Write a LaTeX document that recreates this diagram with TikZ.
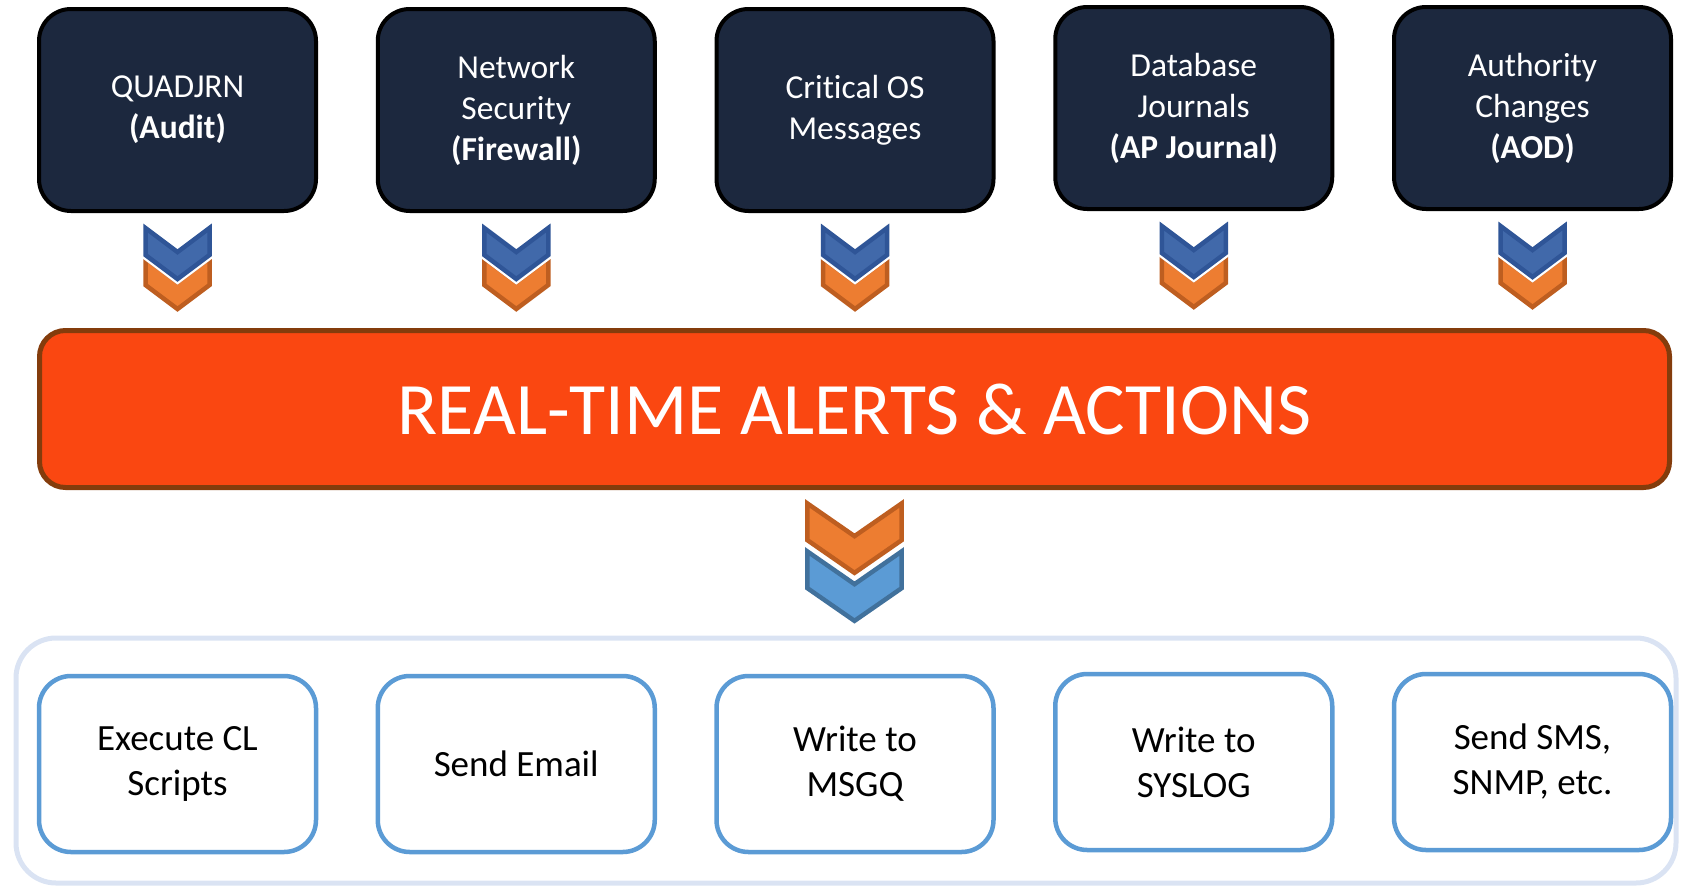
\documentclass[tikz,border=0pt]{standalone}
\usepackage{fontspec}
\setmainfont{Carlito}[Ligatures=NoCommon]
\usetikzlibrary{positioning,calc}

\definecolor{navy}{RGB}{28,40,62}
\definecolor{barfill}{RGB}{250,71,17}
\definecolor{bardraw}{RGB}{132,60,12}
\definecolor{orfill}{RGB}{237,125,49}
\definecolor{ordraw}{RGB}{190,94,32}
\definecolor{bluefill}{RGB}{65,105,170}
\definecolor{bluedraw}{RGB}{47,85,151}
\definecolor{skyfill}{RGB}{91,155,213}
\definecolor{skydraw}{RGB}{65,113,156}
\definecolor{actblue}{RGB}{91,155,213}
\definecolor{frame}{RGB}{218,227,243}

\begin{document}
\begin{tikzpicture}[x=1pt,y=-1pt,node distance=338.75pt,
    src/.style={draw=black,line width=4pt,fill=navy,rounded corners=32pt,
      minimum width=277pt,minimum height=202pt,text=white,align=center,
      font=\fontsize{33.5}{41}\selectfont},
    act/.style={draw=actblue,line width=4.5pt,fill=white,rounded corners=32pt,
      minimum width=277pt,minimum height=176pt,align=center,
      font=\fontsize{37}{45}\selectfont},
    bar/.style={draw=bardraw,line width=5pt,fill=barfill,rounded corners=26pt,
      minimum width=1630pt,minimum height=157pt,text=white,
      font=\fontsize{74}{88}\selectfont},
    chev/.pic={\path[pic actions] (-32,0) -- (0,24) -- (32,0) -- (32,27)
      -- (0,51) -- (-32,27) -- cycle;}]
  \useasboundingbox (0,0) rectangle (1681,886);

  % sources
  \node[src] (s1) at (177.5,110) {QUADJRN\\\textbf{(Audit)}};
  \node[src] (s2) [right of=s1] {Network\\Security\\\textbf{(Firewall)}};
  \node[src] (s3) [right of=s2] {Critical OS\\Messages};
  \node[src] (s4) [right of=s3,yshift=2pt] {Database\\Journals\\\textbf{(AP Journal)}};
  \node[src] (s5) [right of=s4] {Authority\\Changes\\\textbf{(AOD)}};

  \node[bar] (rt) at (854.5,409) {REAL-TIME ALERTS \& ACTIONS};

  \foreach \i in {1,...,5} {
    \pic[fill=orfill,draw=ordraw,line width=4.5pt] at ($(s\i.south)+(0,45)$) {chev};
    \pic[draw=white,line width=9pt] at ($(s\i.south)+(0,15)$) {chev};
    \pic[fill=bluefill,draw=bluedraw,line width=4.5pt] at ($(s\i.south)+(0,15)$) {chev};
  }

  \pic[fill=orfill,draw=ordraw,line width=4.5pt,xscale=1.47,yscale=1.36]
    at ($(rt.south)+(0,13.5)$) {chev};
  \pic[fill=skyfill,draw=skydraw,line width=4.5pt,xscale=1.47,yscale=1.36]
    at ($(rt.south)+(0,61.5)$) {chev};

  % actions
  \draw[draw=frame,line width=5pt,rounded corners=40pt] (16,638) rectangle (1676,883);
  \node[act] (a1) at (177.5,764) {Execute CL\\Scripts};
  \node[act] (a2) [right of=a1] {Send Email};
  \node[act] (a3) [right of=a2] {Write to\\MSGQ};
  \node[act] (a4) [right of=a3,yshift=2pt] {Write to\\SYSLOG};
  \node[act] (a5) [right of=a4] {Send SMS,\\SNMP, etc.};
\end{tikzpicture}
\end{document}
